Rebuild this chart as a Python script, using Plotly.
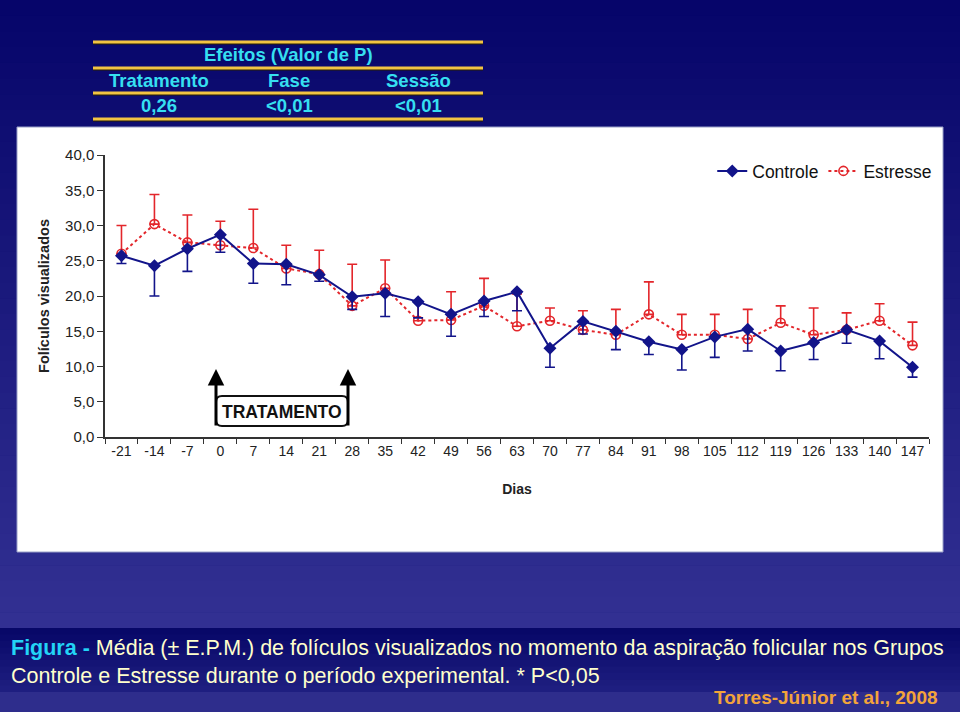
import plotly.graph_objects as go

# --- data -------------------------------------------------------------
dias = ["-21", "-14", "-7", "0", "7", "14", "21", "28", "35", "42", "49", "56", "63",
        "70", "77", "84", "91", "98", "105", "112", "119", "126", "133", "140", "147"]

controle = [25.7, 24.3, 26.7, 28.7, 24.6, 24.5, 23.0, 19.9, 20.4, 19.2, 17.4, 19.3, 20.6,
            12.6, 16.4, 15.0, 13.5, 12.4, 14.2, 15.3, 12.2, 13.4, 15.2, 13.6, 9.9]
controle_epm = [1.1, 4.3, 3.2, 2.5, 2.8, 2.9, 0.9, 1.8, 3.3, 2.3, 3.1, 2.2, 2.7,
                2.7, 1.8, 2.6, 1.8, 2.9, 2.9, 3.1, 2.8, 2.4, 1.9, 2.5, 1.4]

estresse = [26.0, 30.2, 27.6, 27.2, 26.8, 23.9, 23.1, 18.6, 21.1, 16.5, 16.6, 18.6, 15.7,
            16.5, 15.2, 14.5, 17.4, 14.5, 14.5, 13.9, 16.2, 14.5, 15.2, 16.5, 13.0]
estresse_epm = [4.0, 4.2, 3.9, 3.4, 5.5, 3.3, 3.4, 5.9, 4.0, 2.7, 4.0, 3.9, 4.6,
                1.8, 2.7, 3.6, 4.6, 2.9, 2.9, 4.2, 2.4, 3.8, 2.4, 2.4, 3.3]

efeitos = ["Tratamento", "Fase", "Sessão"]
valores_p = ["0,26", "<0,01", "<0,01"]

NAVY = "#12148a"
RED = "#e3262b"
GOLD = "#f2c443"
CYAN = "#36dff0"

W, H = 960, 712
ML, MR, MT, MB = 105, 31, 155, 275
PW, PH = W - ML - MR, H - MT - MB


def fx(px):
    return (px - ML) / PW


def fy(py):
    return (H - MB - py) / PH


def mix(c1, c2, t):
    return "rgb(%d,%d,%d)" % tuple(round(a + (b - a) * t) for a, b in zip(c1, c2))


def label(px, py, text, size, color, xanchor="center"):
    return dict(xref="paper", yref="paper", x=fx(px), y=fy(py), text=text,
                xanchor=xanchor, yanchor="middle", showarrow=False,
                font=dict(size=size, color=color))


fig = go.Figure()

fig.add_trace(go.Scatter(
    x=dias, y=estresse, name="Estresse", mode="lines+markers",
    line=dict(color=RED, width=2, dash="dot"),
    marker=dict(symbol="circle-open", size=9, color=RED, line=dict(width=1.6)),
    error_y=dict(type="data", symmetric=False, array=estresse_epm,
                 arrayminus=[0] * len(estresse), color=RED, thickness=1.6, width=5),
))
fig.add_trace(go.Scatter(
    x=dias, y=controle, name="Controle", mode="lines+markers",
    line=dict(color=NAVY, width=2),
    marker=dict(symbol="diamond", size=10, color=NAVY),
    error_y=dict(type="data", symmetric=False, array=[0] * len(controle),
                 arrayminus=controle_epm, color=NAVY, thickness=1.6, width=5),
))

shapes = []
# slide background gradient
n = 40
for i in range(n):
    y0, y1 = i * 628 / n, (i + 1) * 628 / n + 0.5
    shapes.append(dict(type="rect", xref="paper", yref="paper", layer="below",
                       x0=fx(0), x1=fx(W), y0=fy(y0), y1=fy(y1), line_width=0,
                       fillcolor=mix((6, 5, 106), (50, 48, 146), i / (n - 1))))
for i in range(10):
    y0, y1 = 628 + i * 6.4, 628 + (i + 1) * 6.4 + 0.5
    shapes.append(dict(type="rect", xref="paper", yref="paper", layer="below",
                       x0=fx(0), x1=fx(W), y0=fy(y0), y1=fy(y1), line_width=0,
                       fillcolor=mix((8, 8, 104), (30, 30, 128), i / 9)))
shapes.append(dict(type="rect", xref="paper", yref="paper", layer="below",
                   x0=fx(0), x1=fx(W), y0=fy(692), y1=fy(H), line_width=0,
                   fillcolor="rgb(46,45,140)"))
# white chart panel
shapes.append(dict(type="rect", xref="paper", yref="paper", layer="below",
                   x0=fx(17), x1=fx(943), y0=fy(127), y1=fy(552),
                   fillcolor="white", line=dict(color="#9aa0c8", width=1)))
# table rules
for yy in [42, 68, 93, 119]:
    shapes.append(dict(type="line", xref="paper", yref="paper",
                       x0=fx(93), x1=fx(483), y0=fy(yy + 1.5), y1=fy(yy + 1.5),
                       line=dict(color="#2a2000", width=2)))
    shapes.append(dict(type="line", xref="paper", yref="paper",
                       x0=fx(93), x1=fx(483), y0=fy(yy), y1=fy(yy),
                       line=dict(color=GOLD, width=3)))
# TRATAMENTO box
bx0, bx1, by0, by1, r = 216, 348, 396, 426, 6
path = ("M %f,%f L %f,%f Q %f,%f %f,%f L %f,%f Q %f,%f %f,%f L %f,%f Q %f,%f %f,%f "
        "L %f,%f Q %f,%f %f,%f Z") % (
    fx(bx0 + r), fy(by0), fx(bx1 - r), fy(by0), fx(bx1), fy(by0), fx(bx1), fy(by0 + r),
    fx(bx1), fy(by1 - r), fx(bx1), fy(by1), fx(bx1 - r), fy(by1),
    fx(bx0 + r), fy(by1), fx(bx0), fy(by1), fx(bx0), fy(by1 - r),
    fx(bx0), fy(by0 + r), fx(bx0), fy(by0), fx(bx0 + r), fy(by0))
shapes.append(dict(type="path", xref="paper", yref="paper", path=path,
                   line=dict(color="#111", width=2), fillcolor="white"))

annotations = []
# table text
annotations.append(label(288, 54, "<b>Efeitos (Valor de P)</b>", 18.5, CYAN))
for cx, head, val in zip([159, 289, 418], efeitos, valores_p):
    annotations.append(label(cx, 80, "<b>%s</b>" % head, 18.5, CYAN))
    annotations.append(label(cx, 105, "<b>%s</b>" % val, 18.5, CYAN))
# significance mark
annotations.append(dict(x="-14", y=35.6, xref="x", yref="y", text="<b>*</b>", showarrow=False,
                        xanchor="center", yanchor="middle", font=dict(size=24, color="black")))
# treatment arrows and label
for ax_px in [216, 348]:
    annotations.append(dict(xref="paper", yref="paper", x=fx(ax_px), y=fy(369), ax=0, ay=58,
                            text="", showarrow=True, arrowhead=2, arrowsize=1.1,
                            arrowwidth=3, arrowcolor="black"))
annotations.append(label(282, 412, "<b>TRATAMENTO</b>", 17.5, "#111"))
# caption
annotations.append(dict(
    xref="paper", yref="paper", x=fx(9), y=fy(634), xanchor="left", yanchor="top", align="left",
    showarrow=False, font=dict(size=21.5, color="#ffffcc"),
    text=("<b><span style='color:#22d4f6'>Figura - </span></b>Média (± E.P.M.) de folículos "
          "visualizados no momento da aspiração folicular nos Grupos<br>"
          "Controle e Estresse durante o período experimental. * P&lt;0,05")))
annotations.append(label(940, 697, "<b>Torres-Júnior et al., 2008</b>", 19, "#f3a43a",
                         xanchor="right"))

fig.update_layout(
    width=W, height=H,
    margin=dict(l=ML, r=MR, t=MT, b=MB),
    paper_bgcolor="rgb(6,5,106)",
    plot_bgcolor="rgba(0,0,0,0)",
    font=dict(family="Arial, Liberation Sans, sans-serif", color="#222"),
    separators=",.",
    showlegend=True,
    legend=dict(orientation="h", x=1.01, xanchor="right", y=fy(171), yanchor="middle",
                traceorder="reversed", font=dict(size=17.5, color="#111"),
                bgcolor="rgba(0,0,0,0)"),
    shapes=shapes,
    annotations=annotations,
    xaxis=dict(type="category", range=[-0.5, 24.5], tickson="boundaries",
               ticks="outside", ticklen=5, tickcolor="#333", showline=True, linecolor="#333",
               linewidth=1.5, showgrid=False, zeroline=False,
               tickfont=dict(size=14, color="#222"),
               title=dict(text="<b>Dias</b>", font=dict(size=14, color="#222"), standoff=27)),
    yaxis=dict(range=[0, 40], tickvals=[0, 5, 10, 15, 20, 25, 30, 35, 40], tickformat=".1f",
               ticks="outside", ticklen=6, tickcolor="#333", showline=True, linecolor="#333",
               linewidth=1.5, showgrid=False, zeroline=False,
               tickfont=dict(size=15, color="#222"),
               title=dict(text="<b>Folículos visualizados</b>", font=dict(size=14.5, color="#222"),
                          standoff=12)),
)

fig.write_html("out.html", config={"displayModeBar": False},
               post_script="document.body.style.margin='0';")
